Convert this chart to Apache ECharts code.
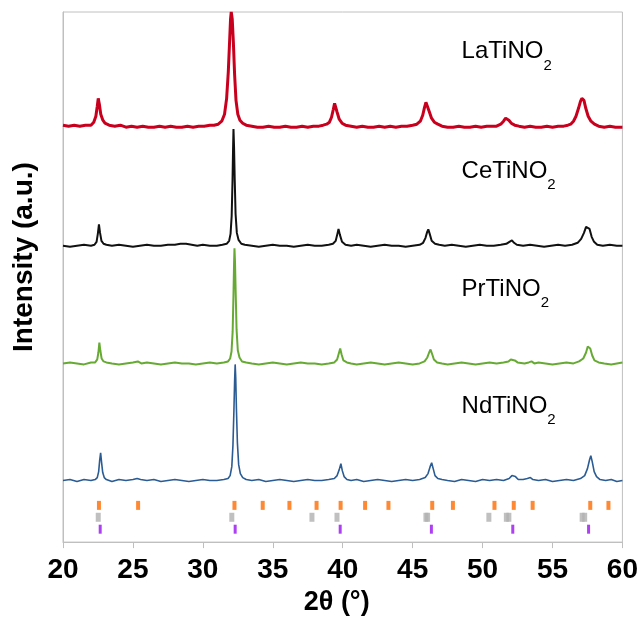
<!DOCTYPE html>
<html>
<head>
<meta charset="utf-8">
<script src="https://cdn.jsdelivr.net/npm/echarts@6/dist/echarts.min.js"></script>
<style>
  html, body { margin: 0; padding: 0; background: #ffffff; }
  #chart { width: 641px; height: 621px; }
</style>
</head>
<body>
<div id="chart"></div>
<script>
// XRD patterns of the ATiNO2 oxynitrides, stacked.
// Each pattern is [2θ (deg), counts above its own baseline].
const sampleNames = ['LaTiNO', 'CeTiNO', 'PrTiNO', 'NdTiNO'];
const sampleColors = ['#c8001e', '#111111', '#66aa33', '#2a5b93'];
const stackOffsets = [419, 298.5, 180, 62];

const laPattern = [
  [20.0,1],[20.4,0],[20.8,1],[21.2,0],[21.6,1],[22.0,1],[22.2,4],[22.35,10],[22.45,20],[22.52,28],[22.6,22],[22.7,12],[22.85,6],[23.0,3],[23.3,1],[23.7,0],[24.1,1],[24.5,-1],[24.9,0],[25.3,-1],[25.7,0],[26.1,-1],[26.5,-1],[26.9,0],[27.3,-1],[27.7,0],[28.1,-1],[28.5,-1],[28.9,0],[29.3,-1],[29.7,0],[30.1,0],[30.5,1],[30.8,1],[31.1,2],[31.35,5],[31.55,12],[31.7,28],[31.82,55],[31.92,88],[31.98,108],[32.03,115],[32.1,108],[32.18,85],[32.27,52],[32.37,26],[32.5,12],[32.65,6],[32.85,3],[33.1,1],[33.5,0],[33.9,-1],[34.3,-1],[34.7,0],[35.1,-1],[35.5,-1],[35.9,0],[36.3,-1],[36.7,-1],[37.1,0],[37.5,-1],[37.9,0],[38.3,0],[38.6,1],[38.85,2],[39.05,4],[39.2,9],[39.33,17],[39.42,23],[39.5,21],[39.6,14],[39.75,7],[39.95,3],[40.2,1],[40.6,0],[41.0,-1],[41.4,0],[41.8,-1],[42.2,-1],[42.6,0],[43.0,-1],[43.4,0],[43.8,-1],[44.2,0],[44.6,0],[45.0,1],[45.3,2],[45.55,5],[45.72,11],[45.85,19],[45.95,24],[46.05,22],[46.18,15],[46.35,8],[46.55,4],[46.8,2],[47.1,0],[47.5,-1],[47.9,-1],[48.3,0],[48.7,-1],[49.1,-1],[49.5,0],[49.9,-1],[50.3,0],[50.7,0],[51.0,0],[51.3,2],[51.5,5],[51.65,8],[51.75,9],[51.88,6],[52.05,3],[52.3,1],[52.6,0],[53.0,-1],[53.4,0],[53.8,-1],[54.2,-1],[54.6,0],[55.0,-1],[55.4,0],[55.8,0],[56.1,1],[56.3,2],[56.5,5],[56.68,10],[56.86,18],[57.0,25],[57.1,28],[57.17,29],[57.25,26],[57.38,18],[57.55,10],[57.75,5],[58.0,2],[58.3,0],[58.7,-1],[59.1,0],[59.5,-1],[60.0,-1]
];

const cePattern = [
  [20.0,0],[20.5,-1],[21.0,0],[21.5,1],[22.0,0],[22.25,1],[22.4,4],[22.49,12],[22.57,21.5],[22.65,13],[22.75,5],[22.9,2],[23.1,1],[23.5,0],[24.0,1],[24.5,0],[25.0,-1],[25.5,0],[26.0,1],[26.5,0],[27.0,0],[27.5,1],[28.0,1],[28.4,2],[28.8,2],[29.2,1],[29.6,0],[30.0,1],[30.5,0],[31.0,0],[31.4,1],[31.7,2],[31.88,5],[31.98,12],[32.06,30],[32.12,65],[32.16,98],[32.19,117.5],[32.23,100],[32.28,66],[32.34,32],[32.43,13],[32.55,6],[32.75,2],[33.0,1],[33.5,0],[34.0,-1],[34.5,0],[35.0,1],[35.5,0],[36.0,0],[36.5,-1],[37.0,0],[37.5,1],[38.0,0],[38.5,0],[39.0,1],[39.3,2],[39.5,5],[39.62,12],[39.7,17],[39.8,11],[39.95,4],[40.2,1],[40.6,0],[41.0,1],[41.5,0],[42.0,-1],[42.5,0],[43.0,1],[43.5,0],[44.0,0],[44.5,-1],[45.0,0],[45.5,1],[45.75,3],[45.92,8],[46.04,14],[46.12,16.5],[46.22,12],[46.36,5],[46.6,2],[46.9,1],[47.3,0],[47.8,1],[48.3,0],[48.8,-1],[49.3,0],[49.8,1],[50.3,0],[50.8,0],[51.3,1],[51.7,2],[51.92,4],[52.1,5.5],[52.25,3],[52.45,1],[52.9,0],[53.4,1],[53.9,0],[54.4,-1],[54.9,0],[55.4,1],[55.9,0],[56.4,1],[56.8,3],[57.05,7],[57.25,13],[57.4,19],[57.53,21],[57.65,17],[57.8,9],[57.97,4],[58.2,1],[58.6,0],[59.1,1],[59.6,0],[60.0,0]
];

const prPattern = [
  [20.0,0],[20.5,1],[21.0,0],[21.5,-1],[22.0,1],[22.3,1],[22.45,4],[22.53,11],[22.6,21],[22.67,13],[22.76,5],[22.9,2],[23.1,1],[23.5,0],[24.0,-1],[24.5,0],[25.0,1],[25.35,2],[25.6,0],[26.0,1],[26.5,0],[27.0,-1],[27.5,0],[28.0,1],[28.5,0],[29.0,0],[29.5,-1],[30.0,0],[30.5,1],[31.0,0],[31.5,1],[31.8,2],[31.95,5],[32.05,12],[32.13,32],[32.19,70],[32.23,100],[32.26,116],[32.3,102],[32.35,70],[32.41,34],[32.5,13],[32.62,6],[32.8,2],[33.1,1],[33.5,0],[34.0,-1],[34.5,0],[35.0,1],[35.5,0],[36.0,-1],[36.5,0],[37.0,1],[37.5,0],[38.0,0],[38.5,-1],[39.0,0],[39.4,1],[39.6,4],[39.72,10],[39.82,15],[39.92,9],[40.05,3],[40.3,1],[40.6,0],[41.0,-1],[41.5,0],[42.0,1],[42.5,0],[43.0,-1],[43.5,0],[44.0,1],[44.5,0],[45.0,-1],[45.5,0],[45.85,2],[46.05,6],[46.18,11],[46.28,14],[46.38,10],[46.52,4],[46.75,1],[47.1,0],[47.5,-1],[48.0,0],[48.5,1],[49.0,0],[49.5,-1],[50.0,0],[50.5,1],[51.0,0],[51.5,1],[51.85,2],[52.02,4],[52.16,5],[52.3,3],[52.5,1],[53.0,0],[53.3,1],[53.5,2],[53.7,0],[54.0,1],[54.5,0],[55.0,-1],[55.5,0],[56.0,1],[56.5,0],[56.9,2],[57.2,5],[57.4,11],[57.52,17],[57.6,19],[57.7,15],[57.84,8],[58.0,3],[58.3,1],[58.7,0],[59.2,-1],[59.6,0],[60.0,1]
];

const ndPattern = [
  [20.0,0],[20.5,1],[21.0,-1],[21.5,1],[22.0,0],[22.3,1],[22.45,3],[22.55,9],[22.62,20],[22.69,28],[22.76,18],[22.84,8],[22.95,3],[23.1,1],[23.5,-1],[24.0,1],[24.5,0],[25.0,1],[25.3,2],[25.42,4],[25.55,1],[26.0,0],[26.5,1],[27.0,-1],[27.5,0],[28.0,1],[28.5,0],[29.0,-1],[29.5,0],[30.0,1],[30.5,0],[31.0,0],[31.5,1],[31.8,2],[31.95,5],[32.07,14],[32.15,35],[32.22,70],[32.27,100],[32.31,117],[32.35,104],[32.4,72],[32.47,38],[32.56,16],[32.68,7],[32.85,3],[33.1,1],[33.5,0],[34.0,1],[34.5,-1],[35.0,0],[35.5,1],[36.0,0],[36.5,-1],[37.0,0],[37.5,1],[38.0,0],[38.5,0],[39.0,1],[39.4,2],[39.6,5],[39.75,11],[39.87,17],[39.97,10],[40.1,4],[40.3,1],[40.6,0],[41.0,1],[41.5,-1],[42.0,0],[42.5,1],[43.0,0],[43.5,-1],[44.0,0],[44.5,1],[45.0,0],[45.5,1],[45.9,3],[46.1,7],[46.25,14],[46.36,18],[46.47,12],[46.6,5],[46.8,2],[47.1,1],[47.5,0],[48.0,-1],[48.5,1],[49.0,0],[49.5,-1],[50.0,1],[50.5,0],[51.0,1],[51.5,0],[51.9,2],[52.1,5],[52.23,7],[52.35,4],[52.55,1],[52.9,1],[53.2,2],[53.42,3],[53.6,1],[54.0,0],[54.5,1],[55.0,-1],[55.5,0],[56.0,1],[56.5,0],[57.0,2],[57.3,5],[57.5,12],[57.65,21],[57.74,25],[57.84,19],[57.98,9],[58.15,4],[58.4,1],[58.8,0],[59.2,1],[59.6,-1],[60.0,0]
];

// Reference reflection positions (2θ, deg)
const refOrange = [22.57, 25.37, 32.26, 34.28, 36.19, 38.13, 39.85, 41.6, 43.27, 46.4, 47.88, 50.85, 52.23, 53.58, 57.7, 59.0];
const refGray = [22.52, 32.07, 37.8, 39.59, 45.95, 46.07, 50.45, 51.7, 51.88, 57.12, 57.3];
const refPurple = [22.66, 32.31, 39.82, 46.34, 52.16, 57.58];

const xTicks = { min: 20, max: 60, step: 5 };

const patterns = [laPattern, cePattern, prPattern, ndPattern];
const FONT = '"Liberation Sans", Arial, sans-serif';

const series = patterns.map((pat, i) => ({
  type: 'line',
  name: sampleNames[i],
  data: pat.map(p => [p[0], p[1] + stackOffsets[i]]),
  showSymbol: false,
  symbol: 'none',
  lineStyle: { color: sampleColors[i], width: i === 0 ? 3 : (i === 3 ? 1.6 : 2) },
  z: 4 - i,
  markPoint: {
    symbol: 'circle',
    symbolSize: 0,
    data: [{ coord: [48.5, stackOffsets[i] + 75] }],
    label: {
      show: true,
      position: 'right',
      distance: 0,
      formatter: '{n|' + sampleNames[i] + '}{s|2}',
      rich: {
        n: { fontSize: 24, color: '#000', fontFamily: FONT },
        s: { fontSize: 15, color: '#000', fontFamily: FONT, padding: [28, 0, 0, 0] }
      }
    }
  }
}));

// reference tick rows
const rows = [
  { data: refOrange, level: 37, color: '#ff6a00', w: 4 },
  { data: refGray, level: 25, color: '#b0b0b0', w: 5 },
  { data: refPurple, level: 13, color: '#9a10f0', w: 3 }
];
rows.forEach(r => {
  series.push({
    type: 'scatter',
    data: r.data.map(x => [x, r.level]),
    symbol: 'rect',
    symbolSize: [r.w, 9],
    itemStyle: { color: r.color },
    silent: true,
    z: 1
  });
});

const chart = echarts.init(document.getElementById('chart'), null, { renderer: 'canvas' });
chart.setOption({
  animation: false,
  backgroundColor: '#ffffff',
  grid: {
    left: 63, right: 17, top: 12, bottom: 75,
    show: true, borderColor: '#c0c0c0', borderWidth: 1
  },
  xAxis: {
    type: 'value',
    min: xTicks.min, max: xTicks.max, interval: xTicks.step,
    name: '2θ (°)',
    nameLocation: 'middle',
    nameGap: 42,
    nameTextStyle: { fontSize: 27, fontWeight: 'bold', color: '#000', fontFamily: FONT, padding: [0, 12, 0, 0] },
    axisLine: { show: true, lineStyle: { color: '#bfbfbf', width: 1 } },
    axisTick: { show: true, length: 6, lineStyle: { color: '#bfbfbf' } },
    axisLabel: { fontSize: 28, fontWeight: 'bold', color: '#000', fontFamily: FONT, margin: 14 },
    splitLine: { show: false }
  },
  yAxis: {
    type: 'value',
    min: 0, max: 534,
    name: 'Intensity (a.u.)',
    nameLocation: 'middle',
    nameGap: 25,
    nameTextStyle: { fontSize: 28, fontWeight: 'bold', color: '#000', fontFamily: FONT, padding: [0, 0, 0, 40] },
    axisLine: { show: true, lineStyle: { color: '#bfbfbf' } },
    axisTick: { show: false },
    axisLabel: { show: false },
    splitLine: { show: false }
  },
  series: series
});
</script>
</body>
</html>
